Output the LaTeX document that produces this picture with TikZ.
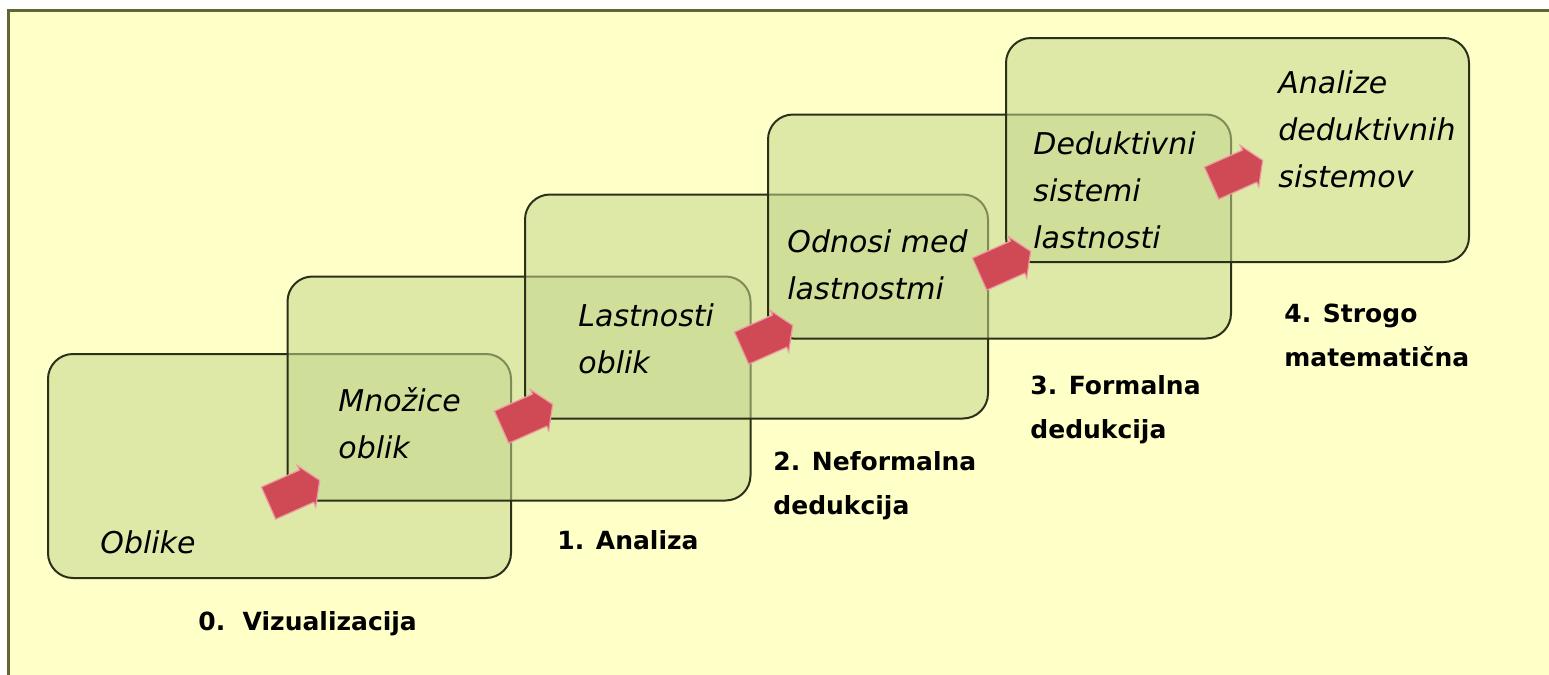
\documentclass[tikz,border=0pt]{standalone}
\usepackage{fontspec}
\setmainfont{DejaVu Sans}
\usetikzlibrary{shapes.arrows}
\definecolor{paper}{RGB}{255,255,200}
\definecolor{frame}{RGB}{96,102,52}
\definecolor{boxfill}{RGB}{196,214,140}
\definecolor{boxline}{RGB}{45,48,25}
\definecolor{arrowred}{RGB}{208,74,86}
\definecolor{arrowrim}{RGB}{236,156,160}
\tikzset{
    level-box/.style = {draw=boxline, line width=1pt, fill=boxfill, fill opacity=0.55, rectangle, rounded corners=12.5pt, minimum width=231.5pt, minimum height=112pt, inner sep=0pt},
    level-arrow/.style = {single arrow, fill=arrowred, draw=arrowrim, line width=0.6pt, minimum height=28pt, minimum width=22pt, single arrow head extend=2.5pt, single arrow tip angle=115, inner xsep=0pt, inner ysep=8.5pt, rotate=24},
    level-text/.style = {font=\fontsize{15pt}{23.5pt}\selectfont\itshape, align=left, anchor=base west, inner sep=0pt},
    level-title/.style = {font=\fontsize{12.5pt}{22pt}\selectfont\bfseries, align=left, anchor=base west, inner sep=0pt},
}

\begin{document}
\begin{tikzpicture}[x=0.5pt, y=-0.5pt]
\useasboundingbox (0,0) rectangle (1549,675);
\fill[white] (0,0) rectangle (1549,675);
\fill[paper] (8,10) rectangle (1549,675);
\draw[frame, line width=1.5pt] (8,675) -- (8,10) -- (1549,10);

% the five levels
\node[level-box] (b0) at (279.5,466) {};
\node[level-box] (b1) at (519,388.5) {};
\node[level-box] (b2) at (756.5,306.5) {};
\node[level-box] (b3) at (999.5,226.5) {};
\node[level-box] (b4) at (1237.5,150) {};

% what each level works with (placed at the baseline of the last line)
\node[level-text] (t0) at (100,553) {Oblike};
\node[level-text] (t1) at (338,458) {Množice\\oblik};
\node[level-text] (t2) at (578,373) {Lastnosti\\oblik};
\node[level-text] (t3) at (787,299) {Odnosi med\\lastnostmi};
\node[level-text] (t4) at (1033,248) {Deduktivni\\sistemi\\lastnosti};
\node[level-text] (t5) at (1278,187) {Analize\\deduktivnih\\sistemov};

% steps up
\node[level-arrow] (a1) at (289,494) {};
\node[level-arrow] (a2) at (522,418) {};
\node[level-arrow] (a3) at (762,339) {};
\node[level-arrow] (a4) at (1000,265) {};
\node[level-arrow] (a5) at (1232,174) {};

% level names
\node[level-title] (l0) at (198,630) {0.\ \ Vizualizacija};
\node[level-title] (l1) at (557,549) {1. Analiza};
\node[level-title] (l2) at (773,514) {2. Neformalna\\dedukcija};
\node[level-title] (l3) at (1030,438) {3. Formalna\\dedukcija};
\node[level-title] (l4) at (1284,366) {4. Strogo\\matematična};
\end{tikzpicture}
\end{document}
